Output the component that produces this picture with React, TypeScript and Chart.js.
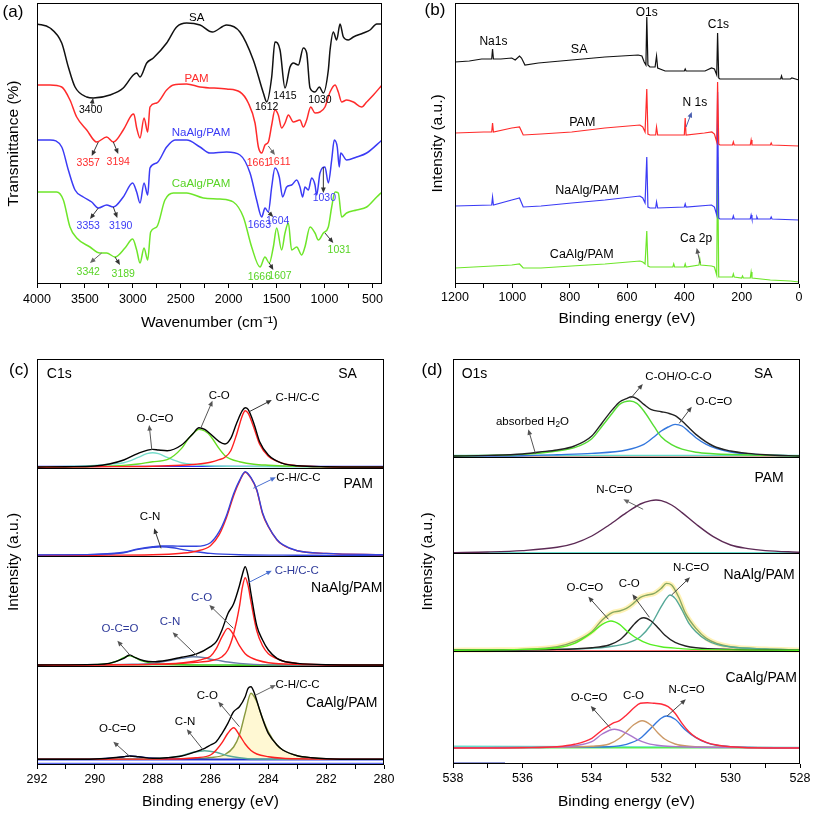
import React, { useEffect, useRef } from 'react';
import { Chart, registerables } from 'chart.js';

Chart.register(...registerables);

type P = [number, number];
const FONT = "'Liberation Sans', Arial, Helvetica, sans-serif";

// ---------------- (a) FTIR ----------------
const A_TICKS = [500, 750, 1000, 1250, 1500, 1750, 2000, 2250, 2500, 2750, 3000, 3250, 3500, 3750, 4000];
const A_LABELS = [500, 1000, 1500, 2000, 2500, 3000, 3500, 4000];
const SA_IR: P[] = [[4000,260],[3864,256],[3742,241],[3673,217],[3603,197],[3481,187],[3412,186],[3238,189],[3100,196],[2995,209],[2960,211],[2925,207],[2855,221],[2786,226],[2647,241],[2543,257],[2438,261],[2299,259],[2170,252],[2021,259],[1882,252],[1743,224],[1638,191],[1603,182],[1551,207],[1517,242],[1464,234],[1412,196],[1360,217],[1325,221],[1273,219],[1221,236],[1186,231],[1151,196],[1099,192],[1054,197],[1012,191],[960,214],[942,234],[908,252],[873,244],[838,260],[803,247],[751,244],[699,247],[595,251],[525,254],[455,260],[400,260]];
const PAM_IR: P[] = [[4000,199],[3864,199],[3742,197],[3656,184],[3586,167],[3481,154],[3377,142],[3273,147],[3204,142],[3100,154],[3012,169],[2990,170],[2960,156],[2925,146],[2883,166],[2845,152],[2821,177],[2751,181],[2647,194],[2577,199],[2438,200],[2299,197],[2021,195],[1882,192],[1795,181],[1725,161],[1690,137],[1655,131],[1621,139],[1586,142],[1551,159],[1517,174],[1482,169],[1447,156],[1412,161],[1377,169],[1325,162],[1256,164],[1221,157],[1186,164],[1144,177],[1099,171],[1047,172],[995,177],[942,192],[890,199],[856,192],[821,182],[769,184],[699,182],[612,177],[560,182],[490,189],[400,199]];
const NA_IR: P[] = [[4000,144],[3864,144],[3742,137],[3673,114],[3603,94],[3517,87],[3429,82],[3360,76],[3273,79],[3204,77],[3100,87],[3002,101],[2960,92],[2925,81],[2883,101],[2845,89],[2821,116],[2751,121],[2647,137],[2560,144],[2438,144],[2299,137],[2195,131],[2021,132],[1882,129],[1777,111],[1708,84],[1655,67],[1621,76],[1586,72],[1551,97],[1517,116],[1472,107],[1437,87],[1395,97],[1343,99],[1290,104],[1256,97],[1228,87],[1204,97],[1169,94],[1134,106],[1099,99],[1082,89],[1047,111],[995,117],[960,101],[925,124],[898,144],[867,137],[846,117],[831,131],[769,124],[665,127],[560,131],[400,144]];
const CA_IR: P[] = [[4000,92],[3795,92],[3725,84],[3656,57],[3586,46],[3447,37],[3343,31],[3273,31],[3186,27],[3082,36],[3002,45],[2960,34],[2925,21],[2883,36],[2845,24],[2814,52],[2751,57],[2665,84],[2577,91],[2438,91],[2264,86],[2090,85],[1951,82],[1847,67],[1760,37],[1673,17],[1621,27],[1576,21],[1534,37],[1499,56],[1447,34],[1412,51],[1377,61],[1343,34],[1290,37],[1238,29],[1204,37],[1151,57],[1099,51],[1064,44],[1012,51],[960,57],[925,77],[890,92],[856,91],[821,67],[769,71],[665,74],[560,77],[455,87],[400,92]];

// ---------------- (b) XPS survey ----------------
const B_TICKS = [0, 100, 200, 300, 400, 500, 600, 700, 800, 900, 1000, 1100, 1200];
const B_LABELS = [0, 200, 400, 600, 800, 1000, 1200];
const SA_SURVEY: P[] = [[1200,222],[1150,223],[1107,225],[1072,225],[1069,235],[1066,225],[1040,225],[1002,226],[990,224],[975,228],[968,226],[956,219],[909,221],[793,224],[677,227],[561,229],[548,228],[540,222],[534,219],[531,267],[527,219],[520,217],[502,217],[497,228],[493,216],[467,213],[400,213],[397,215],[394,213],[328,213],[305,216],[295,215],[287,209],[284,251],[280,206],[276,205],[212,205],[64,205],[61,208],[58,205],[30,205],[25,206],[0,204]];
const PAM_SURVEY: P[] = [[1200,151],[1100,152],[1072,152],[1069,161],[1066,152],[1002,156],[975,157],[962,149],[900,150],[793,152],[677,156],[555,159],[545,157],[537,152],[531,195],[527,150],[520,149],[500,149],[497,157],[493,149],[400,149],[397,166],[394,149],[330,151],[304,152],[295,150],[287,142],[284,202],[280,140],[276,139],[232,139],[229,142],[226,139],[170,139],[167,144],[164,139],[100,139],[97,141],[94,139],[0,138]];
const NA_SURVEY: P[] = [[1200,78],[1072,79],[1069,87],[1066,79],[1002,84],[975,86],[962,77],[900,78],[793,81],[677,84],[555,88],[545,86],[537,81],[531,127],[527,77],[520,76],[500,76],[497,82],[493,76],[400,77],[397,80],[394,77],[305,79],[295,77],[287,69],[284,192],[280,66],[276,65],[232,65],[229,68],[226,65],[170,65],[167,69],[164,65],[150,65],[147,67],[144,65],[100,65],[97,67],[94,65],[0,64]];
const CA_SURVEY: P[] = [[1200,16],[1002,19],[975,20],[962,16],[900,16],[793,18],[677,20],[555,23],[545,22],[537,20],[531,53],[527,18],[520,17],[440,17],[437,20],[434,17],[400,17],[397,20],[394,17],[349,19],[346,25],[343,19],[305,18],[295,17],[287,9],[284,127],[280,7],[232,7],[229,10],[226,7],[200,6],[197,8],[194,6],[170,6],[167,12],[164,6],[100,4],[30,3],[0,2]];

// ---------------- (c) C1s ----------------
const C_TICKS = [280, 281, 282, 283, 284, 285, 286, 287, 288, 289, 290, 291, 292];
const C_LABELS = [280, 282, 284, 286, 288, 290, 292];
const C_SA_ENV: P[] = [[292,0.7],[291,1],[290,1.7],[289.5,3.7],[289,7.7],[288.5,14.3],[288,18.3],[287.8,17.7],[287.5,17],[287,22.7],[286.6,34.3],[286.4,40],[286.2,38.3],[286,33.7],[285.7,26],[285.5,23.7],[285.3,29.3],[285.1,44.3],[284.9,57],[284.8,60],[284.7,58.3],[284.5,44.3],[284.3,26],[284,12.7],[283.5,4.3],[283,2],[282,1],[280,0.7]];
const C_SA_CH: P[] = [[292,0.5],[290,1],[288,1.5],[287,2.5],[286.5,3.5],[286,5.5],[285.7,8],[285.5,10.5],[285.3,17],[285.1,33],[284.9,52],[284.8,57],[284.7,54.5],[284.5,40],[284.3,23.5],[284,11.5],[283.7,6.5],[283.5,4.3],[283,2],[282,1],[280,0.5]];
const C_SA_CO: P[] = [[292,0.5],[290,1.3],[289,2.3],[288.5,3.7],[288,6],[287.5,8],[287,19.3],[286.8,27.7],[286.6,34.3],[286.4,38.3],[286.2,36.7],[286,31.7],[285.7,19],[285.5,12],[285.3,8.5],[285,6],[284.5,3.5],[284,2.5],[283,1.3],[280,0.5]];
const C_SA_OCO: P[] = [[292,0.8],[291,1.3],[290,2.3],[289.5,3.5],[289,5],[288.5,10.3],[288.2,14],[288,15],[287.8,14],[287.5,10.3],[287,5],[286.5,3],[286,2],[285,1.3],[283,0.8],[280,0.5]];
const C_SA_BASE: P[] = [[292,1.3],[280,1.3]];
const C_PAM_ENV: P[] = [[292,0.7],[290,1.3],[289,3.5],[288.5,6.8],[288,9],[287.7,9.7],[287.3,9.7],[287,9.5],[286.5,9.5],[286,13],[285.7,24],[285.45,40],[285.2,62],[285,75],[284.8,84],[284.6,78],[284.4,66],[284.2,43],[284,29.5],[283.7,16],[283.5,11],[283,5],[282,2.3],[280,1]];
const C_PAM_CH: P[] = [[292,0.3],[290,0.5],[288,1],[287,2.5],[286.5,4.5],[286,10],[285.7,21],[285.45,38],[285.2,60],[285,74],[284.8,83.5],[284.6,77.5],[284.4,65.5],[284.2,42],[284,29],[283.7,15.7],[283.5,10.7],[283,5],[282,2.3],[280,1]];
const C_PAM_CN: P[] = [[292,0.5],[290,1.3],[289,3],[288.5,6.3],[288,8.3],[287.7,9],[287.3,8],[287,6.3],[286.5,4],[286,2.3],[285,1],[283,0.5],[280,0.3]];
const C_NA_ENV: P[] = [[292,0.7],[290,1.3],[289.5,2.3],[289,7.3],[288.8,10.7],[288.6,8],[288.3,5],[288,4],[287.5,5.5],[287,8.5],[286.5,11.5],[286,19],[285.8,24],[285.6,36],[285.4,52],[285.2,62],[285,80],[284.9,91],[284.8,99],[284.7,90],[284.6,72],[284.4,40],[284.2,25.7],[284,15.7],[283.7,7.3],[283.5,4.7],[283,2.3],[282,1],[280,0.7]];
const C_NA_CH: P[] = [[292,0.5],[290,1],[288,1.3],[287,2.3],[286.5,3.3],[286,5],[285.6,9],[285.4,15.7],[285.2,32],[285,59],[284.9,78],[284.8,88],[284.7,80],[284.6,64],[284.4,35],[284.2,20],[284,12],[283.7,7],[283.5,4.7],[283,2.3],[282,1],[280,0.5]];
const C_NA_CO: P[] = [[292,0.5],[288,1.3],[287,2.7],[286.5,4.7],[286.2,7],[286,9.5],[285.8,17],[285.6,29],[285.4,37.3],[285.2,31],[285,20],[284.8,12],[284.6,8],[284.4,5.7],[284,3],[283,1.3],[280,0.5]];
const C_NA_CN: P[] = [[292,0.5],[290,0.8],[289,1.3],[288,2.3],[287.5,4.7],[287,7.3],[286.6,9],[286.2,8],[286,6.5],[285.8,5.7],[285.4,3.7],[285,2.3],[284.5,1.3],[283,0.6],[280,0.3]];
const C_NA_OCO: P[] = [[292,0.5],[290,1],[289.5,2.3],[289.2,5],[289,8],[288.8,10],[288.6,8],[288.4,5],[288,2.3],[287,1],[285,0.5],[280,0.3]];
const C_NA_BASE: P[] = [[292,0.8],[280,0.8]];
const C_CA_ENV: P[] = [[292,5.7],[291,5.7],[290,6],[289,8.3],[288.8,9],[288.5,8.3],[288,6.7],[287.5,7.3],[287,9],[286.5,13.3],[286.2,16.7],[286,20],[285.8,23.3],[285.6,31.7],[285.4,41.7],[285.2,53.3],[285,58.3],[284.8,68.3],[284.7,76.7],[284.6,78.3],[284.5,73.3],[284.3,55],[284.1,38.3],[284,31.7],[283.7,20],[283.5,15],[283,9.3],[282.5,7.3],[282,6.3],[281,5.7],[280,5.7]];
const C_CA_CH: P[] = [[292,5.7],[288,5.9],[287,6.3],[286,7.5],[285.5,10.5],[285.2,18],[285,30],[284.8,52],[284.6,71.7],[284.4,63.3],[284.2,46.7],[284,33.3],[283.7,20],[283.5,15],[283,9.3],[282.5,7.3],[282,6.3],[280,5.7]];
const C_CA_CO: P[] = [[292,5.7],[288,5.9],[287,6.3],[286.5,7.3],[286,10],[285.8,15],[285.6,22.3],[285.4,31.7],[285.2,37.3],[285,30],[284.8,21],[284.6,14.5],[284.4,11],[284,8.3],[283.5,6.7],[283,6.2],[280,5.7]];
const C_CA_CN: P[] = [[292,5.7],[289,6],[288,6.3],[287.5,7.3],[287,9.3],[286.6,12.7],[286.2,14.3],[285.8,12.7],[285.4,9.3],[285,7.3],[284.5,6],[283,5.8],[280,5.7]];
const C_CA_OCO: P[] = [[292,5.7],[290,6],[289.5,6.7],[289,8.3],[288.8,9],[288.5,8.3],[288,6.7],[287,5.8],[285,5.7],[280,5.7]];
const C_CA_BASE: P[] = [[292,5.2],[280,5.2]];
const C_CA_BASE2: P[] = [[292,1.7],[280,1.7]];

// ---------------- (d) O1s ----------------
const D_TICKS = [528, 529, 530, 531, 532, 533, 534, 535, 536, 537, 538];
const D_LABELS = [528, 530, 532, 534, 536, 538];
const D_SA_ENV: P[] = [[538,0.7],[537,1.3],[536,2.7],[535.5,4.7],[535,6.7],[534.5,10.7],[534,20.7],[533.7,34],[533.4,47.3],[533.2,54.7],[533,58],[532.85,60],[532.7,58],[532.5,52.3],[532.3,47.3],[532,45],[531.8,43.5],[531.6,41],[531.4,35.7],[531.2,29],[531,22.3],[530.5,10.7],[530,5.7],[529.5,3.3],[529,2],[528,0.7]];
const D_SA_COH: P[] = [[538,0.7],[537,1.3],[536,2.3],[535,5.7],[534.5,9],[534,18],[533.7,30.7],[533.4,44],[533.2,52.3],[532.9,55.7],[532.7,53.3],[532.5,45.7],[532.2,30],[532,20],[531.7,12],[531.4,7.5],[531,4.5],[530.5,3],[530,2.2],[529,1.5],[528,0.7]];
const D_SA_OCO: P[] = [[538,0.5],[536,1],[535,2],[534,3.3],[533,6.7],[532.5,12.3],[532.2,20],[532,25.7],[531.8,29.7],[531.6,32.3],[531.4,30.7],[531.2,25],[531,19],[530.7,12.3],[530.4,8],[530,4.7],[529.5,2.7],[529,1.7],[528,0.7]];
const D_SA_BASE_R: P[] = [[538,-0.5],[528,-0.5]];
const D_SA_BASE_C: P[] = [[538,1.2],[528,1.2]];
const D_PAM_NCO: P[] = [[538,0.7],[537,1.3],[536,2.7],[535,6],[534.5,10],[534,17.3],[533.5,28.3],[533,40.7],[532.6,49.3],[532.3,52.7],[532.15,53.3],[532,52.7],[531.7,48.3],[531.4,40.7],[531,29.3],[530.5,16.7],[530,8.3],[529.5,4.7],[529,2.7],[528,1]];
const D_PAM_BASE: P[] = [[538,0.6],[528,0.6]];
const D_NA_ENV: P[] = [[538,0.5],[537,0.8],[536,1.3],[535,4],[534.5,9],[534,19],[533.7,30.7],[533.4,38.3],[533.2,39.7],[533,42.3],[532.8,47.3],[532.6,53.3],[532.4,55.7],[532.2,57.3],[532,62.3],[531.85,67.3],[531.7,65.7],[531.5,54],[531.3,37.3],[531,22.3],[530.7,12.3],[530.4,7.3],[530,4],[529,1.7],[528,0.7]];
const D_NA_OCO: P[] = [[538,0.5],[536,1.3],[535,3],[534.5,7.3],[534,18],[533.7,26.3],[533.45,29.7],[533.2,26.3],[533,20],[532.7,12.3],[532.4,7.3],[532,4],[531.5,2.3],[531,1.3],[528,0.5]];
const D_NA_CO: P[] = [[538,0.5],[535,1.3],[534,3],[533.5,5.7],[533.2,10.7],[533,17.3],[532.8,25.7],[532.6,32],[532.5,33],[532.3,30],[532.1,23.3],[531.9,15.7],[531.6,8.3],[531.3,4.7],[531,3],[530,1.3],[528,0.5]];
const D_NA_NCO: P[] = [[538,0.5],[535,1.3],[534,2.3],[533.5,4],[533,7.3],[532.6,14],[532.3,25.7],[532,44],[531.85,52.3],[531.75,55.7],[531.6,52.3],[531.4,40.7],[531.2,27.3],[531,19],[530.7,10.7],[530.4,6.3],[530,3.7],[529,1.7],[528,0.7]];
const D_NA_BASE: P[] = [[538,-0.3],[528,-0.3]];
const D_CA_ENV: P[] = [[538,16],[537,16],[536,16.3],[535,17.3],[534.5,19.7],[534,25.7],[533.7,34],[533.4,40.7],[533.2,43.3],[533,49],[532.8,55.7],[532.6,60.7],[532.4,61.3],[532.2,60.7],[532,60],[531.8,57.3],[531.6,50.7],[531.4,40.7],[531.2,32.3],[531,26.7],[530.7,21.7],[530.4,19],[530,17.3],[529,16],[528,16]];
const D_CA_OCO: P[] = [[538,16.3],[536,16.5],[535,17],[534.5,18.3],[534,22.3],[533.7,30],[533.35,34.7],[533,30.7],[532.7,24.7],[532.4,20.7],[532,18.3],[531.5,17.3],[530,16.5],[528,16.3]];
const D_CA_CO: P[] = [[538,16.3],[535,16.8],[534,17.7],[533.5,20],[533.2,25.7],[533,32.3],[532.8,39],[532.55,43.3],[532.3,39],[532.1,31.3],[531.9,25],[531.6,20],[531.2,17.7],[530,16.6],[528,16.3]];
const D_CA_NCO: P[] = [[538,16.3],[535,16.6],[534,17],[533.5,17.3],[533,19.7],[532.6,25.7],[532.3,35.7],[532,45.7],[531.85,48],[531.6,44.7],[531.3,34],[531,26.3],[530.7,21.3],[530.4,18.7],[530,17.3],[529,16.3],[528,16]];
const D_CA_BASE_G: P[] = [[538,16.3],[528,16.3]];
const D_CA_BASE_C: P[] = [[538,17.7],[528,16.6]];
const D_CA_BASE_B: P[] = [[538,0.7],[536.5,0.7]];

// ---------------- types & helpers ----------------
type Series = { d: P[]; c: string; o?: number; w?: number; sharp?: boolean; fill?: string; fillTo?: number; order?: number };
type Note = { t: string; x: number; y: number; c?: string; s?: number; a?: CanvasTextAlign };
type Arw = { x1: number; y1: number; x2: number; y2: number; c?: string };
type Spec = {
  left: number; top: number; w: number; h: number;
  pad: { left: number; right: number; top: number; bottom: number };
  xMin: number; xMax: number; xTicks: number[]; xLabels: number[];
  xTitle: string; xH: number; tickPad: number; xTitlePad: number;
  yMax: number; yTitle: string; yW: number; yTitlePad: number;
  series: Series[]; notes: Note[]; arrows: Arw[]; dividers: number[];
  letter: { t: string; x: number; y: number };
};

function drawText(ctx: CanvasRenderingContext2D, n: Note, x: number, y: number) {
  const size = n.s || 11;
  const parts = n.t.split(/(_\d)/).filter((p) => p.length > 0);
  const main = `${size}px ${FONT}`;
  const small = `${size * 0.72}px ${FONT}`;
  let total = 0;
  const widths = parts.map((p) => {
    ctx.font = p.startsWith('_') ? small : main;
    const w = ctx.measureText(p.startsWith('_') ? p.slice(1) : p).width;
    total += w;
    return w;
  });
  const align = n.a || 'center';
  let cx = align === 'center' ? x - total / 2 : align === 'right' ? x - total : x;
  ctx.fillStyle = n.c || '#000';
  ctx.textAlign = 'left';
  ctx.textBaseline = 'middle';
  parts.forEach((p, i) => {
    if (p.startsWith('_')) {
      ctx.font = small;
      ctx.fillText(p.slice(1), cx, y + size * 0.3);
    } else {
      ctx.font = main;
      ctx.fillText(p, cx, y);
    }
    cx += widths[i];
  });
}

function makeDecor(spec: Spec) {
  return {
    id: 'decor',
    afterDatasetsDraw(chart: any) {
      const ctx: CanvasRenderingContext2D = chart.ctx;
      const ca = chart.chartArea;
      const xs = chart.scales.x;
      const ys = chart.scales.y;
      ctx.save();
      ctx.strokeStyle = '#000';
      ctx.lineWidth = 1;
      for (const v of spec.dividers) {
        const py = Math.round(ys.getPixelForValue(v)) + 0.5;
        ctx.beginPath();
        ctx.moveTo(ca.left, py);
        ctx.lineTo(ca.right, py);
        ctx.stroke();
      }
      ctx.strokeRect(Math.round(ca.left) + 0.5, Math.round(ca.top) + 0.5, Math.round(ca.right - ca.left) - 1, Math.round(ca.bottom - ca.top) - 1);
      for (const a of spec.arrows) {
        const x1 = xs.getPixelForValue(a.x1), y1 = ys.getPixelForValue(a.y1);
        const x2 = xs.getPixelForValue(a.x2), y2 = ys.getPixelForValue(a.y2);
        const col = a.c || '#333';
        const ang = Math.atan2(y2 - y1, x2 - x1);
        const L = 5.5, W = 2.4;
        ctx.strokeStyle = col;
        ctx.fillStyle = col;
        ctx.lineWidth = 1;
        ctx.beginPath();
        ctx.moveTo(x1, y1);
        ctx.lineTo(x2 - Math.cos(ang) * L * 0.6, y2 - Math.sin(ang) * L * 0.6);
        ctx.stroke();
        ctx.beginPath();
        ctx.moveTo(x2, y2);
        ctx.lineTo(x2 - L * Math.cos(ang) + W * Math.sin(ang), y2 - L * Math.sin(ang) - W * Math.cos(ang));
        ctx.lineTo(x2 - L * Math.cos(ang) - W * Math.sin(ang), y2 - L * Math.sin(ang) + W * Math.cos(ang));
        ctx.closePath();
        ctx.fill();
      }
      for (const n of spec.notes) drawText(ctx, n, xs.getPixelForValue(n.x), ys.getPixelForValue(n.y));
      drawText(ctx, { t: spec.letter.t, x: 0, y: 0, s: 17 }, spec.letter.x, spec.letter.y);
      ctx.restore();
    },
  };
}

function buildConfig(p: Spec): any {
  return {
    type: 'line',
    data: {
      datasets: p.series.map((s) => ({
        data: s.d.map(([x, y]) => ({ x, y: y + (s.o || 0) })),
        borderColor: s.c,
        borderWidth: s.w ?? 1.4,
        pointRadius: 0,
        pointHoverRadius: 0,
        fill: s.fill ? { value: s.fillTo ?? 0 } : false,
        backgroundColor: s.fill || 'rgba(0,0,0,0)',
        cubicInterpolationMode: s.sharp ? 'default' : 'monotone',
        tension: s.sharp ? 0 : 0.4,
        order: s.order ?? 0,
      })),
    },
    options: {
      responsive: false,
      maintainAspectRatio: false,
      animation: false,
      events: [],
      layout: { padding: p.pad },
      plugins: { legend: { display: false }, tooltip: { enabled: false } },
      scales: {
        x: {
          type: 'linear',
          bounds: 'data',
          min: p.xMin,
          max: p.xMax,
          reverse: true,
          afterBuildTicks: (sc: any) => {
            sc.ticks = p.xTicks.map((v) => ({ value: v }));
          },
          ticks: {
            autoSkip: false,
            maxRotation: 0,
            minRotation: 0,
            padding: p.tickPad,
            color: '#000',
            font: { size: 12.5, family: FONT },
            callback: (v: number) => (p.xLabels.includes(v) ? String(v) : ''),
          },
          grid: { display: true, drawOnChartArea: false, drawTicks: true, tickLength: 4, color: '#000', lineWidth: 1 },
          border: { display: false },
          title: { display: true, text: p.xTitle, color: '#000', font: { size: 15.5, family: FONT }, padding: { top: 0, bottom: p.xTitlePad } },
          afterFit: (sc: any) => {
            sc.height = p.xH;
          },
        },
        y: {
          type: 'linear',
          bounds: 'data',
          min: 0,
          max: p.yMax,
          ticks: { display: false },
          grid: { display: false },
          border: { display: false },
          title: { display: true, text: p.yTitle, color: '#000', font: { size: 15.5, family: FONT }, padding: { top: p.yTitlePad, bottom: 0 } },
          afterFit: (sc: any) => {
            sc.width = p.yW;
          },
        },
      },
    },
    plugins: [makeDecor(p)],
  };
}

// ---------------- panel specs ----------------
const K = '#111111', R = '#ff2b2b', B = '#3b3bf5', G = '#6ee62a';
const TXT_G = '#58d425';

const PANEL_A: Spec = {
  left: 0, top: 0, w: 406, h: 335,
  pad: { left: 0, right: 24, top: 3, bottom: 0 },
  xMin: 400, xMax: 4000, xTicks: A_TICKS, xLabels: A_LABELS,
  xTitle: 'Wavenumber (cm\u207B\u00B9)', xH: 51, tickPad: 4, xTitlePad: 3,
  yMax: 281, yTitle: 'Transmittance (%)', yW: 37, yTitlePad: 4,
  series: [
    { d: SA_IR, c: K, w: 1.5 },
    { d: PAM_IR, c: R, w: 1.5 },
    { d: NA_IR, c: B, w: 1.5 },
    { d: CA_IR, c: G, w: 1.5 },
  ],
  notes: [
    { t: 'SA', x: 2334, y: 266, s: 11.5 },
    { t: 'PAM', x: 2334, y: 205, s: 11.5, c: R },
    { t: 'NaAlg/PAM', x: 2289, y: 151, s: 11.5, c: B },
    { t: 'CaAlg/PAM', x: 2289, y: 100, s: 11.5, c: TXT_G },
    { t: '3400', x: 3440, y: 174, s: 10.5 },
    { t: '1612', x: 1603, y: 177, s: 10.5 },
    { t: '1415', x: 1412, y: 188, s: 10.5 },
    { t: '1030', x: 1047, y: 184, s: 10.5 },
    { t: '3357', x: 3465, y: 121, s: 10.5, c: R },
    { t: '3194', x: 3152, y: 122, s: 10.5, c: R },
    { t: '1661', x: 1690, y: 121, s: 10.5, c: R },
    { t: '1611', x: 1472, y: 122, s: 10.5, c: R },
    { t: '3353', x: 3465, y: 58, s: 10.5, c: B },
    { t: '3190', x: 3127, y: 58, s: 10.5, c: B },
    { t: '1663', x: 1680, y: 59, s: 10.5, c: B },
    { t: '1604', x: 1489, y: 63, s: 10.5, c: B },
    { t: '1030', x: 1002, y: 86, s: 10.5, c: B },
    { t: '3342', x: 3465, y: 12, s: 10.5, c: TXT_G },
    { t: '3189', x: 3100, y: 10, s: 10.5, c: TXT_G },
    { t: '1666', x: 1680, y: 7, s: 10.5, c: TXT_G },
    { t: '1607', x: 1464, y: 8, s: 10.5, c: TXT_G },
    { t: '1031', x: 846, y: 34, s: 10.5, c: TXT_G },
  ],
  arrows: [
    { x1: 3430, y1: 178, x2: 3415, y2: 186 },
    { x1: 3360, y1: 142, x2: 3429, y2: 128 },
    { x1: 3204, y1: 142, x2: 3152, y2: 130 },
    { x1: 1586, y1: 138, x2: 1517, y2: 129, c: '#666' },
    { x1: 3360, y1: 76, x2: 3447, y2: 65 },
    { x1: 3204, y1: 77, x2: 3162, y2: 66 },
    { x1: 1586, y1: 72, x2: 1534, y2: 67 },
    { x1: 1012, y1: 117, x2: 1012, y2: 91 },
    { x1: 3325, y1: 31, x2: 3447, y2: 21, c: '#666' },
    { x1: 3186, y1: 27, x2: 3134, y2: 19 },
    { x1: 1576, y1: 21, x2: 1534, y2: 14 },
    { x1: 995, y1: 51, x2: 908, y2: 41 },
  ],
  dividers: [],
  letter: { t: '(a)', x: 13, y: 12 },
};

const PANEL_B: Spec = {
  left: 406, top: 0, w: 407, h: 335,
  pad: { left: 0, right: 14, top: 3, bottom: 0 },
  xMin: 0, xMax: 1200, xTicks: B_TICKS, xLabels: B_LABELS,
  xTitle: 'Binding energy (eV)', xH: 51, tickPad: 2, xTitlePad: 7,
  yMax: 281, yTitle: 'Intensity (a.u.)', yW: 49, yTitlePad: 22,
  series: [
    { d: SA_SURVEY, c: K, w: 1.2, sharp: true },
    { d: PAM_SURVEY, c: R, w: 1.2, sharp: true },
    { d: NA_SURVEY, c: B, w: 1.2, sharp: true },
    { d: CA_SURVEY, c: G, w: 1.2, sharp: true },
  ],
  notes: [
    { t: 'Na1s', x: 1066, y: 242, s: 12 },
    { t: 'SA', x: 767, y: 234, s: 12.5 },
    { t: 'O1s', x: 531, y: 271, s: 12 },
    { t: 'C1s', x: 281, y: 259, s: 12 },
    { t: 'PAM', x: 756, y: 161, s: 12.5 },
    { t: 'N 1s', x: 363, y: 181, s: 12 },
    { t: 'NaAlg/PAM', x: 739, y: 93, s: 12.5 },
    { t: 'CaAlg/PAM', x: 758, y: 29, s: 12.5 },
    { t: 'Ca 2p', x: 359, y: 45, s: 12 },
  ],
  arrows: [
    { x1: 394, y1: 157, x2: 374, y2: 172, c: '#4a5fb0' },
    { x1: 345, y1: 21, x2: 357, y2: 36, c: '#555' },
  ],
  dividers: [],
  letter: { t: '(b)', x: 29, y: 10 },
};

const C_OFF = { ca: 0, na: 99.3, pam: 209.3, sa: 297.3 };
const CB = '#2e3a9a';
const PANEL_C: Spec = {
  left: 0, top: 340, w: 406, h: 473,
  pad: { left: 0, right: 22, top: 19, bottom: 0 },
  xMin: 280, xMax: 292, xTicks: C_TICKS, xLabels: C_LABELS,
  xTitle: 'Binding energy (eV)', xH: 48, tickPad: 3, xTitlePad: 2,
  yMax: 406, yTitle: 'Intensity (a.u.)', yW: 37, yTitlePad: 4,
  series: [
    { d: C_SA_ENV, c: '#000', o: C_OFF.sa },
    { d: C_SA_CH, c: '#ff2020', o: C_OFF.sa },
    { d: C_SA_CO, c: '#66dd22', o: C_OFF.sa },
    { d: C_SA_OCO, c: '#77ddcc', o: C_OFF.sa },
    { d: C_SA_BASE, c: '#3030ff', o: C_OFF.sa, sharp: true },
    { d: C_PAM_ENV, c: '#3344dd', o: C_OFF.pam },
    { d: C_PAM_CH, c: '#ff2020', o: C_OFF.pam },
    { d: C_PAM_CN, c: '#3344dd', o: C_OFF.pam },
    { d: C_NA_ENV, c: '#000', o: C_OFF.na },
    { d: C_NA_CH, c: '#ff2020', o: C_OFF.na },
    { d: C_NA_CO, c: '#ff2020', o: C_OFF.na },
    { d: C_NA_CN, c: '#6a7fa8', o: C_OFF.na },
    { d: C_NA_OCO, c: '#44cc22', o: C_OFF.na },
    { d: C_NA_BASE, c: '#66dd66', o: C_OFF.na, sharp: true },
    { d: C_CA_ENV, c: '#000', o: C_OFF.ca },
    { d: C_CA_CO, c: '#ff2020', o: C_OFF.ca },
    { d: C_CA_CN, c: '#5aaa99', o: C_OFF.ca },
    { d: C_CA_OCO, c: '#2233cc', o: C_OFF.ca },
    { d: C_CA_CH, c: '#8a9a40', o: C_OFF.ca, fill: 'rgba(255,246,200,0.8)', fillTo: 5.7, order: 3 },
    { d: C_CA_BASE, c: '#3344ee', o: C_OFF.ca, sharp: true, order: 4 },
    { d: C_CA_BASE2, c: '#3344ee', o: C_OFF.ca, sharp: true, w: 1 },
  ],
  notes: [
    { t: 'C1s', x: 291.66, y: 391, s: 14, a: 'left' },
    { t: 'SA', x: 281.26, y: 391, s: 14 },
    { t: 'O-C=O', x: 287.92, y: 346, s: 11.5 },
    { t: 'C-O', x: 285.7, y: 369, s: 11.5 },
    { t: 'C-H/C-C', x: 282.99, y: 366.7, s: 11.5 },
    { t: 'C-H/C-C', x: 282.96, y: 287.3, s: 11.5 },
    { t: 'PAM', x: 280.89, y: 280.7, s: 14 },
    { t: 'C-N', x: 288.09, y: 247.7, s: 11.5 },
    { t: 'C-H/C-C', x: 283.02, y: 194, s: 11.5, c: CB },
    { t: 'NaAlg/PAM', x: 281.29, y: 176.7, s: 14 },
    { t: 'C-O', x: 286.31, y: 166.7, s: 11.5, c: CB },
    { t: 'C-N', x: 287.4, y: 142.7, s: 11.5, c: CB },
    { t: 'O-C=O', x: 289.13, y: 135.7, s: 11.5, c: CB },
    { t: 'C-H/C-C', x: 282.99, y: 80, s: 11.5 },
    { t: 'CaAlg/PAM', x: 281.46, y: 62.3, s: 14 },
    { t: 'C-O', x: 286.11, y: 69.3, s: 11.5 },
    { t: 'C-N', x: 286.88, y: 43.3, s: 11.5 },
    { t: 'O-C=O', x: 289.22, y: 35.7, s: 11.5 },
  ],
  arrows: [
    { x1: 288.03, y1: 315, x2: 288.12, y2: 340, c: '#555' },
    { x1: 286.34, y1: 336.7, x2: 285.93, y2: 364.3, c: '#555' },
    { x1: 284.66, y1: 353.3, x2: 283.88, y2: 365, c: '#333' },
    { x1: 284.52, y1: 276.7, x2: 283.74, y2: 287.7, c: '#4a6fd0' },
    { x1: 287.71, y1: 216.7, x2: 287.95, y2: 236.7, c: '#333' },
    { x1: 284.69, y1: 182.3, x2: 283.88, y2: 194.3, c: '#4a6fd0' },
    { x1: 285.21, y1: 136.7, x2: 286.04, y2: 160, c: '#555' },
    { x1: 286.46, y1: 109, x2: 287.31, y2: 132.7, c: '#555' },
    { x1: 288.76, y1: 109, x2: 289.22, y2: 124.3, c: '#555' },
    { x1: 284.43, y1: 70, x2: 283.74, y2: 80, c: '#666' },
    { x1: 285.0, y1: 38.3, x2: 285.73, y2: 63.3, c: '#555' },
    { x1: 286.25, y1: 15, x2: 286.82, y2: 35.7, c: '#555' },
    { x1: 288.78, y1: 8.3, x2: 289.36, y2: 23.3, c: '#555' },
  ],
  dividers: [C_OFF.na, C_OFF.pam, C_OFF.sa],
  letter: { t: '(c)', x: 19, y: 30 },
};

const D_OFF = { ca: 0, na: 113.3, pam: 210.7, sa: 307.3 };
const PANEL_D: Spec = {
  left: 406, top: 340, w: 407, h: 473,
  pad: { left: 0, right: 13, top: 19, bottom: 0 },
  xMin: 528, xMax: 538, xTicks: D_TICKS, xLabels: D_LABELS,
  xTitle: 'Binding energy (eV)', xH: 49, tickPad: 3, xTitlePad: 2,
  yMax: 405, yTitle: 'Intensity (a.u.)', yW: 47, yTitlePad: 12,
  series: [
    { d: D_SA_ENV, c: '#222', o: D_OFF.sa },
    { d: D_SA_COH, c: '#55dd33', o: D_OFF.sa },
    { d: D_SA_OCO, c: '#3377dd', o: D_OFF.sa },
    { d: D_SA_BASE_C, c: '#66ddcc', o: D_OFF.sa, sharp: true },
    { d: D_SA_BASE_R, c: '#ff3333', o: D_OFF.sa, sharp: true, w: 1.5 },
    { d: D_PAM_NCO, c: '#5c2a55', o: D_OFF.pam },
    { d: D_PAM_BASE, c: '#66ddcc', o: D_OFF.pam, sharp: true },
    { d: D_NA_OCO, c: '#55ee22', o: D_OFF.na },
    { d: D_NA_CO, c: '#222', o: D_OFF.na },
    { d: D_NA_NCO, c: '#55a898', o: D_OFF.na },
    { d: D_NA_ENV, c: '#88a860', o: D_OFF.na },
    { d: D_NA_ENV, c: 'rgba(255,236,150,0.7)', o: D_OFF.na, w: 5, order: 5 },
    { d: D_NA_BASE, c: '#ff4444', o: D_OFF.na, sharp: true, w: 1.5 },
    { d: D_CA_ENV, c: '#ff2a3a', o: D_OFF.ca },
    { d: D_CA_OCO, c: '#aa77cc', o: D_OFF.ca },
    { d: D_CA_CO, c: '#cc9966', o: D_OFF.ca },
    { d: D_CA_NCO, c: '#3377dd', o: D_OFF.ca },
    { d: D_CA_BASE_G, c: '#55ee55', o: D_OFF.ca, sharp: true },
    { d: D_CA_BASE_C, c: '#66ddcc', o: D_OFF.ca, sharp: true },
    { d: D_CA_BASE_B, c: '#2233aa', o: D_OFF.ca, sharp: true },
  ],
  notes: [
    { t: 'O1s', x: 537.75, y: 390, s: 14, a: 'left' },
    { t: 'SA', x: 529.06, y: 389.7, s: 14 },
    { t: 'C-OH/O-C-O', x: 531.5, y: 387.3, s: 11.5 },
    { t: 'O-C=O', x: 530.48, y: 362.3, s: 11.5 },
    { t: 'absorbed H_2O', x: 535.71, y: 342.3, s: 11.5 },
    { t: 'PAM', x: 528.89, y: 286.3, s: 14 },
    { t: 'N-C=O', x: 533.35, y: 274, s: 11.5 },
    { t: 'N-C=O', x: 531.14, y: 195.7, s: 11.5 },
    { t: 'NaAlg/PAM', x: 529.18, y: 189, s: 14 },
    { t: 'C-O', x: 532.92, y: 180, s: 11.5 },
    { t: 'O-C=O', x: 534.2, y: 175.7, s: 11.5 },
    { t: 'CaAlg/PAM', x: 529.12, y: 86.3, s: 14 },
    { t: 'O-C=O', x: 534.08, y: 65.7, s: 11.5 },
    { t: 'C-O', x: 532.8, y: 68, s: 11.5 },
    { t: 'N-C=O', x: 531.27, y: 74, s: 11.5 },
  ],
  arrows: [
    { x1: 532.88, y1: 365.7, x2: 532.53, y2: 380, c: '#444' },
    { x1: 531.48, y1: 340.7, x2: 531.12, y2: 357.3, c: '#444' },
    { x1: 535.62, y1: 310, x2: 535.83, y2: 334.7, c: '#555' },
    { x1: 532.52, y1: 254.7, x2: 533.09, y2: 264.7, c: '#666' },
    { x1: 531.7, y1: 169, x2: 531.17, y2: 186.7, c: '#444' },
    { x1: 532.34, y1: 146.7, x2: 532.83, y2: 169.7, c: '#444' },
    { x1: 533.52, y1: 144.7, x2: 534.1, y2: 167.3, c: '#444' },
    { x1: 533.46, y1: 35.7, x2: 534.03, y2: 58, c: '#444' },
    { x1: 531.83, y1: 48, x2: 531.29, y2: 64.7, c: '#444' },
  ],
  dividers: [D_OFF.na, D_OFF.pam, D_OFF.sa],
  letter: { t: '(d)', x: 26, y: 30 },
};

const PANELS: Spec[] = [PANEL_A, PANEL_B, PANEL_C, PANEL_D];

function ChartBox({ spec }: { spec: Spec }) {
  const ref = useRef<HTMLCanvasElement | null>(null);
  useEffect(() => {
    if (!ref.current) return;
    const ch = new Chart(ref.current, buildConfig(spec));
    return () => ch.destroy();
  }, [spec]);
  return (
    <canvas
      ref={ref}
      width={spec.w}
      height={spec.h}
      style={{ position: 'absolute', left: spec.left, top: spec.top, width: spec.w, height: spec.h, display: 'block' }}
    />
  );
}

export default function App() {
  return (
    <div style={{ position: 'absolute', left: 0, top: 0, width: 813, height: 813, background: '#fff', overflow: 'hidden' }}>
      {PANELS.map((p, i) => (
        <ChartBox key={i} spec={p} />
      ))}
    </div>
  );
}
